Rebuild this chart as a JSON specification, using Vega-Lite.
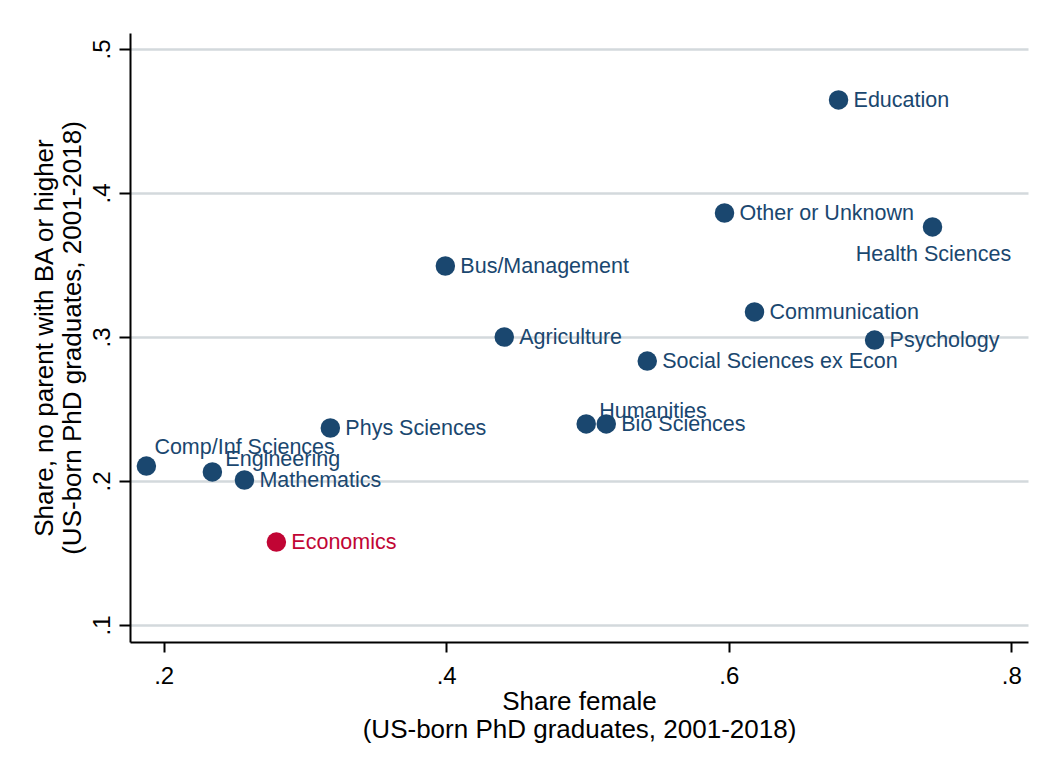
{
  "$schema": "https://vega.github.io/schema/vega-lite/v6.json",
  "width": 898,
  "height": 609,
  "autosize": {"type": "none"},
  "padding": {"left": 130, "top": 33, "right": 23, "bottom": 130},
  "background": "white",
  "config": {
    "font": "Liberation Sans",
    "view": {"stroke": null},
    "axis": {
      "domainColor": "#000000",
      "domainWidth": 2,
      "tickColor": "#000000",
      "tickWidth": 2,
      "labelColor": "#000000",
      "titleColor": "#000000",
      "labelFont": "Liberation Sans",
      "titleFont": "Liberation Sans",
      "labelFontSize": 24,
      "titleFontSize": 26,
      "titleFontWeight": "normal",
      "titleLineHeight": 28
    }
  },
  "data": {
    "values": [
      {"field": "Comp/Inf Sciences", "female": 0.1878, "nobach": 0.2104},
      {"field": "Engineering", "female": 0.2345, "nobach": 0.2063},
      {"field": "Mathematics", "female": 0.2572, "nobach": 0.2007},
      {"field": "Economics", "female": 0.2798, "nobach": 0.1576},
      {"field": "Phys Sciences", "female": 0.318, "nobach": 0.2368},
      {"field": "Bus/Management", "female": 0.3994, "nobach": 0.3493},
      {"field": "Agriculture", "female": 0.4411, "nobach": 0.3},
      {"field": "Humanities", "female": 0.4991, "nobach": 0.2396},
      {"field": "Bio Sciences", "female": 0.5133, "nobach": 0.2396},
      {"field": "Social Sciences ex Econ", "female": 0.5423, "nobach": 0.2833},
      {"field": "Other or Unknown", "female": 0.597, "nobach": 0.3861},
      {"field": "Communication", "female": 0.6182, "nobach": 0.3174},
      {"field": "Education", "female": 0.6777, "nobach": 0.4646},
      {"field": "Psychology", "female": 0.7032, "nobach": 0.2979},
      {"field": "Health Sciences", "female": 0.7442, "nobach": 0.3764}
    ]
  },
  "encoding": {
    "x": {
      "field": "female",
      "type": "quantitative",
      "scale": {"domain": [0.1762, 0.8118], "nice": false, "zero": false},
      "axis": {
        "values": [0.2, 0.4, 0.6, 0.8],
        "labelExpr": "substring(format(datum.value, '.1f'), 1)",
        "title": ["Share female", "(US-born PhD graduates, 2001-2018)"],
        "grid": false,
        "tickSize": 10,
        "labelPadding": 12,
        "titlePadding": 0,
        "labelFlush": false
      }
    },
    "y": {
      "field": "nobach",
      "type": "quantitative",
      "scale": {"domain": [0.0882, 0.5111], "nice": false, "zero": false},
      "axis": {
        "values": [0.1, 0.2, 0.3, 0.4, 0.5],
        "labelExpr": "substring(format(datum.value, '.1f'), 1)",
        "title": ["Share, no parent with BA or higher", "(US-born PhD graduates, 2001-2018)"],
        "grid": true,
        "gridColor": "#d3d9dc",
        "gridWidth": 2.5,
        "tickSize": 11,
        "labelAngle": -90,
        "labelAlign": "center",
        "labelBaseline": "bottom",
        "labelPadding": 5,
        "titlePadding": 5,
        "labelFlush": false
      }
    },
    "color": {
      "condition": {"test": "datum.field === 'Economics'", "value": "#c10534"},
      "value": "#1a476f"
    }
  },
  "layer": [
    {"mark": {"type": "circle", "size": 380, "opacity": 1}},
    {
      "transform": [{"filter": "indexof(['Comp/Inf Sciences','Engineering','Humanities','Health Sciences'], datum.field) < 0"}],
      "mark": {"type": "text", "align": "left", "baseline": "middle", "dx": 15, "dy": 1, "fontSize": 21.5},
      "encoding": {"text": {"field": "field"}}
    },
    {
      "transform": [{"filter": "datum.field === 'Comp/Inf Sciences'"}],
      "mark": {"type": "text", "align": "left", "baseline": "middle", "dx": 8, "dy": -18, "fontSize": 21.5},
      "encoding": {"text": {"field": "field"}}
    },
    {
      "transform": [{"filter": "datum.field === 'Engineering' || datum.field === 'Humanities'"}],
      "mark": {"type": "text", "align": "left", "baseline": "middle", "dx": 13, "dy": -12, "fontSize": 21.5},
      "encoding": {"text": {"field": "field"}}
    },
    {
      "transform": [{"filter": "datum.field === 'Health Sciences'"}],
      "mark": {"type": "text", "align": "center", "baseline": "middle", "dx": 1, "dy": 28, "fontSize": 21.5},
      "encoding": {"text": {"field": "field"}}
    }
  ]
}
